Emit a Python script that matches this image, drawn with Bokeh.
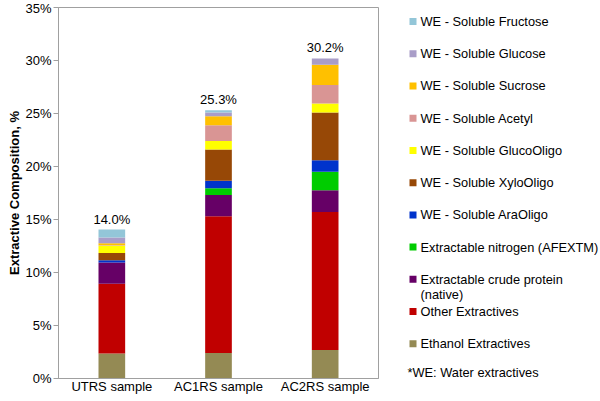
from bokeh.plotting import figure
from bokeh.models import ColumnDataSource, FactorRange, Range1d, FixedTicker, PrintfTickFormatter
from bokeh.layouts import row
from bokeh.core.properties import value
from bokeh.embed import file_html
from bokeh.resources import INLINE

samples = ["UTRS sample", "AC1RS sample", "AC2RS sample"]

# stacking order: bottom -> top
series = [
    "Ethanol Extractives",
    "Other Extractives",
    "Extractable crude protein\n(native)",
    "Extractable nitrogen (AFEXTM)",
    "WE - Soluble AraOligo",
    "WE - Soluble XyloOligo",
    "WE - Soluble GlucoOligo",
    "WE - Soluble Acetyl",
    "WE - Soluble Sucrose",
    "WE - Soluble Glucose",
    "WE - Soluble Fructose",
]
colors = ["#948A54", "#C00000", "#660066", "#00CC00", "#0033CC", "#974806",
          "#FFFF00", "#D99594", "#FFC000", "#A99DC8", "#93C6D8"]

ethanol = [2.35, 2.4, 2.7]
other = [6.6, 12.9, 13.0]
crude_protein = [2.0, 2.0, 2.05]
nitrogen = [0.0, 0.65, 1.75]
ara_oligo = [0.2, 0.7, 1.1]
xylo_oligo = [0.7, 2.95, 4.5]
gluco_oligo = [0.7, 0.8, 0.85]
acetyl = [0.05, 1.5, 1.75]
sucrose = [0.15, 0.85, 1.9]
glucose = [0.55, 0.35, 0.6]
fructose = [0.75, 0.2, 0.0]

note = "*WE: Water extractives"

values = [ethanol, other, crude_protein, nitrogen, ara_oligo, xylo_oligo,
          gluco_oligo, acetyl, sucrose, glucose, fructose]
keys = ["s%d" % i for i in range(len(series))]

data = {"cat": samples}
for k, v in zip(keys, values):
    data[k] = v
source = ColumnDataSource(data)

totals = [sum(v[i] for v in values) for i in range(len(samples))]
total_labels = ["%.1f%%" % t for t in totals]

FONT = "Liberation Sans"
H = 401
TOP, BOTTOM = 7, 23
MAIN_W = 390

p = figure(x_range=FactorRange(*samples, range_padding=0), y_range=Range1d(0, 35),
           width=MAIN_W, height=H, output_backend="svg", toolbar_location=None,
           min_border_left=58, min_border_right=MAIN_W - 378, min_border_top=TOP,
           min_border_bottom=BOTTOM)
p.vbar_stack(keys, x="cat", width=0.25, color=colors, line_color=None, source=source)
p.text(x=samples, y=totals, text=total_labels, text_align="center", text_baseline="bottom",
       y_offset=-3, text_font=value(FONT), text_font_size="13px", text_color="#000000")

p.xgrid.grid_line_color = None
p.ygrid.grid_line_color = None
p.outline_line_color = "#A0A0A0"
p.outline_line_width = 1

p.yaxis.ticker = FixedTicker(ticks=[0, 5, 10, 15, 20, 25, 30, 35])
p.yaxis.formatter = PrintfTickFormatter(format="%d%%")
p.yaxis.axis_label = "Extractive Composition, %"
p.yaxis.axis_label_text_font = FONT
p.yaxis.axis_label_text_font_style = "bold"
p.yaxis.axis_label_text_font_size = "13px"
p.yaxis.axis_label_text_color = "#000000"
p.yaxis.axis_label_standoff = 0
p.yaxis.minor_tick_line_color = None
p.yaxis.major_tick_out = 5
p.yaxis.major_tick_in = 0
p.yaxis.major_tick_line_color = "#A0A0A0"
p.yaxis.major_label_standoff = 2

p.xaxis.major_tick_line_color = None
p.xaxis.major_tick_out = 0
p.xaxis.major_tick_in = 0
p.xaxis.minor_tick_line_color = None
p.xaxis.major_label_standoff = 0

for ax in (p.xaxis, p.yaxis):
    ax.axis_line_color = "#A0A0A0"
    ax.major_label_text_font = FONT
    ax.major_label_text_font_size = "13px"
    ax.major_label_text_color = "#000000"

# legend panel: data coordinates equal page pixels
leg = figure(width=600 - MAIN_W, height=H, x_range=Range1d(MAIN_W, 600),
             y_range=Range1d(H - BOTTOM, TOP),
             output_backend="svg", toolbar_location=None,
             min_border_left=0, min_border_right=0, min_border_top=TOP, min_border_bottom=BOTTOM)
leg.axis.visible = False
leg.xgrid.grid_line_color = None
leg.ygrid.grid_line_color = None
leg.outline_line_color = None

order = list(range(len(series)))[::-1]
y0, dy = 21.0, 32.23
sq_x, sq_y, sq_c = [], [], []
tx, ty, tt = [], [], []
for j, i in enumerate(order):
    yy = y0 + dy * j
    sq_x.append(412.5)
    sq_y.append(yy)
    sq_c.append(colors[i])
    for k, line in enumerate(series[i].split("\n")):
        tx.append(420)
        ty.append(yy + 15.3 * k)
        tt.append(line)
leg.rect(x=sq_x, y=sq_y, width=7, height=7, width_units="screen", height_units="screen",
         fill_color=sq_c, line_color=None)
leg.text(x=tx, y=ty, text=tt, text_baseline="middle", text_align="left",
         text_font=value(FONT), text_font_size="12.8px", text_color="#000000")
leg.text(x=[407], y=[y0 + dy * 10 + 29], text=[note], text_baseline="middle",
         text_align="left", text_font=value(FONT), text_font_size="12.8px", text_color="#000000")

layout = row(p, leg, spacing=0)
open("out.html", "w").write(file_html(layout, INLINE))
